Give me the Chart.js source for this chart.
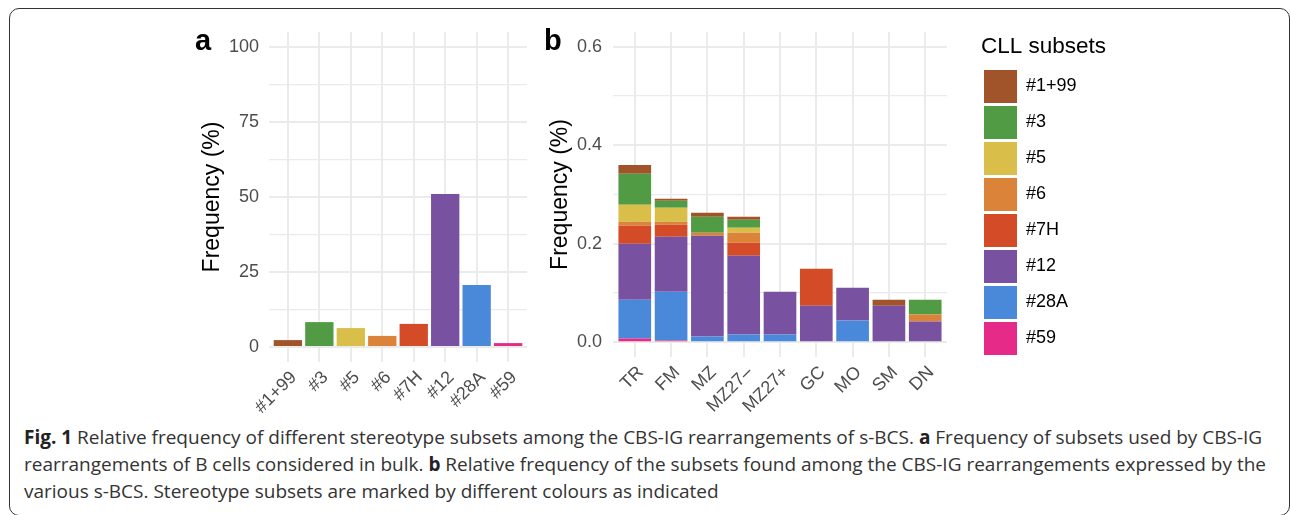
<!DOCTYPE html>
<html lang="en">
<head>
<meta charset="UTF-8">
<title>Fig. 1 CLL subsets</title>
<script src="https://cdn.jsdelivr.net/npm/chart.js"></script>
<style>
  body { margin: 0; background: #fff; }
  #fig { position: relative; width: 1290px; height: 515px; overflow: hidden; }
  #frame { position: absolute; left: 9px; top: 8px; width: 1281px; height: 508px; border: 1.5px solid #333; border-radius: 10px; box-sizing: border-box; }
  canvas { position: absolute; top: 0; }
  .tag { position: absolute; font: bold 29px "Liberation Sans", Arial, sans-serif; line-height: 29px; color: #000; }
  #caption { position: absolute; left: 24px; top: 424px; font-family: "Open Sans", sans-serif; font-size: 19px; line-height: 27px; color: #333; white-space: nowrap; }
  #caption b { color: #222; }
</style>
</head>
<body>
<div id="fig">
  <div id="frame"></div>
  <canvas id="chartA" width="367" height="420" style="left:180px"></canvas>
  <canvas id="chartB" width="580" height="420" style="left:540px"></canvas>
  <div class="tag" style="left:195px; top:26px">a</div>
  <div class="tag" style="left:544px; top:26px">b</div>
  <div id="caption"><b>Fig. 1</b> Relative frequency of different stereotype subsets among the CBS-IG rearrangements of s-BCS. <b>a</b> Frequency of subsets used by CBS-IG<br>rearrangements of B cells considered in bulk. <b>b</b> Relative frequency of the subsets found among the CBS-IG rearrangements expressed by the<br>various s-BCS. Stereotype subsets are marked by different colours as indicated</div>
</div>

<script>
  // subsets (legend order) and their colours
  const subsets = ['#1+99', '#3', '#5', '#6', '#7H', '#12', '#28A', '#59'];
  const subsetColors = ['#A1542A', '#529B45', '#D9BE4A', '#DB8439', '#D34B27', '#7851A0', '#4A89DA', '#E52A88'];

  // panel a: bulk frequency (%)
  const bulkFreq = [2.3, 8.3, 6.3, 3.7, 7.7, 51.0, 20.7, 1.3];
  const ticksA = [0, 12.5, 25, 37.5, 50, 62.5, 75, 87.5, 100];

  // panel b: relative frequency per s-BCS
  const cellTypes = ['TR', 'FM', 'MZ', 'MZ27–', 'MZ27+', 'GC', 'MO', 'SM', 'DN'];
  const freq_1_99 = [0.018, 0.004, 0.0081, 0.0061, 0, 0, 0, 0.0122, 0];
  const freq_3 = [0.063, 0.0142, 0.0324, 0.0162, 0, 0, 0, 0, 0.0304];
  const freq_5 = [0.0344, 0.0284, 0, 0.0101, 0, 0, 0, 0, 0];
  const freq_6 = [0.0081, 0.0061, 0.0061, 0.0203, 0, 0, 0, 0, 0.0142];
  const freq_7H = [0.0365, 0.0243, 0, 0.0263, 0, 0.075, 0, 0, 0];
  const freq_12 = [0.1135, 0.1115, 0.2047, 0.1602, 0.0872, 0.0743, 0.0669, 0.0743, 0.0419];
  const freq_28A = [0.0791, 0.0993, 0.0115, 0.0155, 0.0155, 0, 0.0439, 0, 0];
  const freq_59 = [0.0074, 0.0034, 0, 0, 0, 0, 0, 0, 0];
  const ticksB = [0, 0.1, 0.2, 0.3, 0.4, 0.5, 0.6];

  Chart.defaults.font.family = '"Liberation Sans", Arial, sans-serif';
  Chart.defaults.animation = false;

  const gridColor = '#EBEBEB';
  const tickColor = '#4D4D4D';
  const tickFont = { size: 18 };

  function xScale(labels, height) {
    return {
      type: 'linear',
      stacked: true,
      offset: false,
      min: -0.6,
      max: labels.length - 0.4,
      afterBuildTicks: s => { s.ticks = labels.map((_, i) => ({ value: i })); },
      afterFit: s => { s.height = height; },
      grid: { color: gridColor, lineWidth: 2, drawTicks: false, offset: false },
      border: { display: false },
      ticks: {
        color: tickColor, font: tickFont, autoSkip: false,
        minRotation: 45, maxRotation: 45, padding: 5, labelOffset: 6,
        callback: v => labels[v]
      }
    };
  }

  function yScale(min, max, ticks, isMajor, fmt, width, pad) {
    return {
      type: 'linear',
      stacked: true,
      min: min,
      max: max,
      afterBuildTicks: s => { s.ticks = ticks.map(v => ({ value: v })); },
      afterFit: s => { s.width = width; },
      grid: {
        color: gridColor, drawTicks: false,
        lineWidth: ctx => isMajor(ctx.tick.value) ? 2 : 1.2
      },
      border: { display: false },
      ticks: {
        color: tickColor, font: tickFont, padding: pad,
        callback: v => isMajor(v) ? fmt(v) : ''
      },
      title: {
        display: true, text: 'Frequency (%)', color: '#000',
        font: { size: 23, lineHeight: 1 }, padding: 0
      }
    };
  }

  // legend box is clipped to its own width, make it wide enough for the title
  const wideLegend = {
    id: 'wideLegend',
    beforeLayout(chart) {
      const lg = chart.legend;
      if (!lg || lg._wide) return;
      const fit = lg.fit;
      lg.fit = function () { fit.call(this); this.width = 134; };
      lg._wide = true;
    }
  };

  // panel a
  new Chart(document.getElementById('chartA'), {
    type: 'bar',
    data: {
      datasets: [{
        data: bulkFreq.map((v, i) => ({ x: i, y: v })),
        backgroundColor: subsetColors,
        barPercentage: 0.9,
        categoryPercentage: 1
      }]
    },
    options: {
      responsive: false,
      layout: { padding: { left: 21, top: 32, right: 20, bottom: 0 } },
      plugins: { legend: { display: false }, tooltip: { enabled: false } },
      scales: {
        x: xScale(subsets, 58),
        y: yScale(-5, 105, ticksA, v => v % 25 === 0, v => String(v), 68, 10)
      }
    }
  });

  // panel b, stacked bottom to top
  const stackOrder = [
    ['#59', freq_59], ['#28A', freq_28A], ['#12', freq_12], ['#7H', freq_7H],
    ['#6', freq_6], ['#5', freq_5], ['#3', freq_3], ['#1+99', freq_1_99]
  ];

  new Chart(document.getElementById('chartB'), {
    type: 'bar',
    plugins: [wideLegend],
    data: {
      datasets: stackOrder.map(([name, vals]) => ({
        label: name,
        data: vals.map((v, i) => ({ x: i, y: v })),
        backgroundColor: subsetColors[subsets.indexOf(name)],
        barPercentage: 0.9,
        categoryPercentage: 1
      }))
    },
    options: {
      responsive: false,
      layout: { padding: { left: 9, top: 32, right: 5, bottom: 0 } },
      plugins: {
        tooltip: { enabled: false },
        legend: {
          position: 'right',
          align: 'start',
          reverse: true,
          title: {
            display: true, text: 'CLL subsets', color: '#000', position: 'start',
            font: { size: 22.5, lineHeight: 1.2 }, padding: { top: 4, bottom: 4 }
          },
          labels: {
            boxWidth: 33, boxHeight: 33, padding: 3, color: '#000',
            font: { size: 18 }
          }
        }
      },
      scales: {
        x: xScale(cellTypes, 63),
        y: yScale(-0.03, 0.63, ticksB, v => Math.round(v * 10) % 2 === 0, v => v.toFixed(1), 64, 11),
        gap: {
          type: 'linear', position: 'right', display: true,
          grid: { display: false }, border: { display: false }, ticks: { display: false },
          afterFit: s => { s.width = 34; }
        }
      }
    }
  });
</script>
</body>
</html>
